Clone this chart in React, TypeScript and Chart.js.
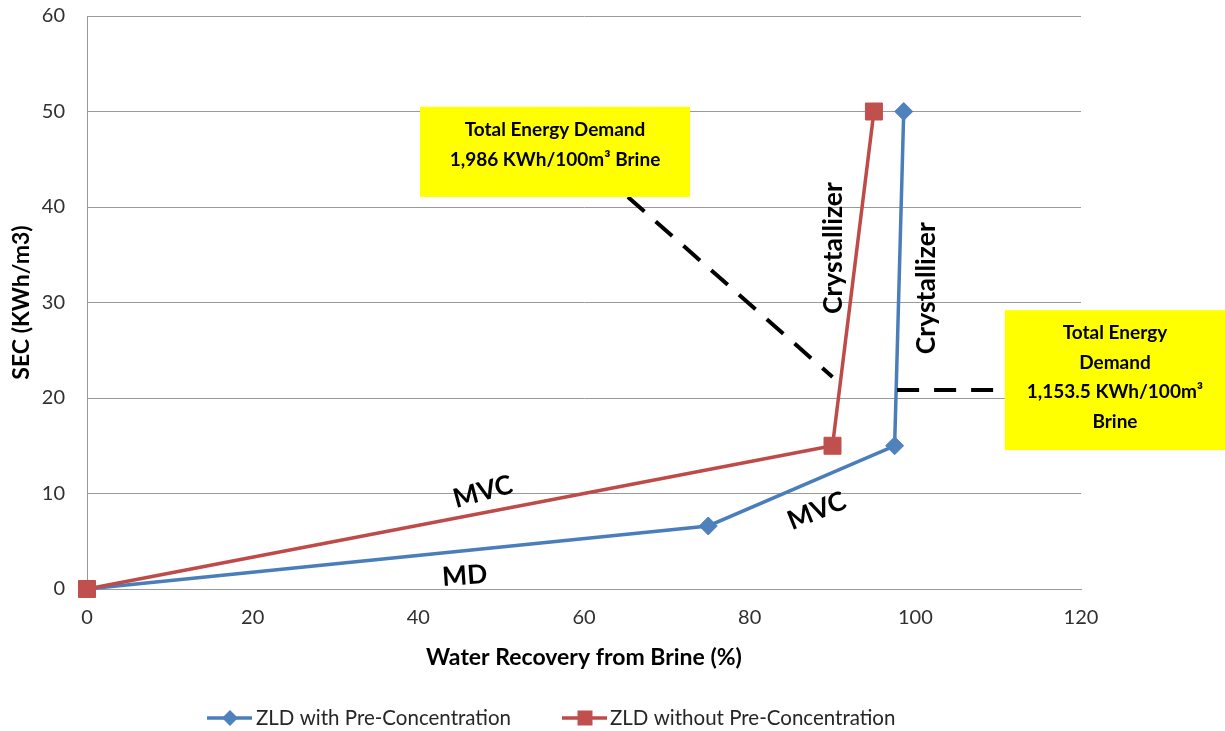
import React, { useEffect, useRef } from 'react';
import { Chart, registerables } from 'chart.js';

Chart.register(...registerables);

// ---- data ----
const seriesNames = ['ZLD with Pre-Concentration', 'ZLD without Pre-Concentration'];
const withPreX = [0, 75, 97.5, 98.6];
const withPreY = [0, 6.6, 15, 50];
const withoutPreX = [0, 90, 95];
const withoutPreY = [0, 15, 50];
const xTickValues = [0, 20, 40, 60, 80, 100, 120];
const yTickValues = [0, 10, 20, 30, 40, 50, 60];
const xTitle = 'Water Recovery from Brine (%)';
const yTitle = 'SEC (KWh/m3)';

// ---- annotations (data coordinates) ----
const calloutBoxes = [
  { x0: 40.2, x1: 72.8, yTop: 50.5, yBottom: 41.05, textY: 48.06, lines: ['Total Energy Demand', '1,986 KWh/100m\u00B3 Brine'] },
  { x0: 110.8, x1: 137.4, yTop: 29.2, yBottom: 14.55, textY: 26.8, lines: ['Total Energy', 'Demand', '1,153.5 KWh/100m\u00B3', 'Brine'] },
];
const dashedLeaders = [
  { from: [65.3, 41.05], to: [90.0, 22.2] },
  { from: [97.8, 20.84], to: [112.4, 20.84] },
];
const curveLabels = [
  { text: 'Crystallizer', x: 90.06, y: 35.7, angle: -90 },
  { text: 'Crystallizer', x: 101.4, y: 31.5, angle: -90 },
  { text: 'MVC', x: 47.8, y: 10.16, angle: -15 },
  { text: 'MVC', x: 88.1, y: 8.17, angle: -22 },
  { text: 'MD', x: 45.6, y: 1.36, angle: -4 },
];

const FONT = 'Lato, "Noto Sans", "DejaVu Sans", sans-serif';
const BLUE = '#4A7EBB';
const BLUE_MARK = '#4F81BD';
const RED = '#BE4B48';
const RED_MARK = '#C0504D';
const GRID = '#9a9a9a';

const legendLayout = [
  { lineX0: 207, lineX1: 252, markerX: 230, textX: 256, marker: 'diamond' },
  { lineX0: 562, lineX1: 607, markerX: 585, textX: 610, marker: 'square' },
];
const legendY = 718;

const annotationPlugin = {
  id: 'annotationPlugin',
  afterDraw(chart: any) {
    const { ctx, scales } = chart;
    const xs = scales.x;
    const ys = scales.y;
    ctx.save();

    // dashed leaders
    ctx.strokeStyle = '#000';
    ctx.lineWidth = 4;
    ctx.setLineDash([22, 15]);
    dashedLeaders.forEach((d) => {
      ctx.beginPath();
      ctx.moveTo(xs.getPixelForValue(d.from[0]), ys.getPixelForValue(d.from[1]));
      ctx.lineTo(xs.getPixelForValue(d.to[0]), ys.getPixelForValue(d.to[1]));
      ctx.stroke();
    });
    ctx.setLineDash([]);

    // callout boxes
    calloutBoxes.forEach((b) => {
      const left = xs.getPixelForValue(b.x0);
      const right = xs.getPixelForValue(b.x1);
      const top = ys.getPixelForValue(b.yTop);
      const bottom = ys.getPixelForValue(b.yBottom);
      ctx.fillStyle = '#FFFF00';
      ctx.fillRect(left, top, right - left, bottom - top);
      ctx.fillStyle = '#000';
      ctx.font = `bold 19px ${FONT}`;
      ctx.textAlign = 'center';
      ctx.textBaseline = 'middle';
      const cx = (left + right) / 2;
      const y0 = ys.getPixelForValue(b.textY);
      b.lines.forEach((t, i) => ctx.fillText(t, cx, y0 + i * 29.5));
    });

    // curve labels
    curveLabels.forEach((l) => {
      ctx.save();
      ctx.translate(xs.getPixelForValue(l.x), ys.getPixelForValue(l.y));
      ctx.rotate((l.angle * Math.PI) / 180);
      ctx.fillStyle = '#000';
      ctx.font = `bold 26.5px ${FONT}`;
      ctx.textAlign = 'center';
      ctx.textBaseline = 'middle';
      ctx.fillText(l.text, 0, 0);
      ctx.restore();
    });

    // legend
    chart.data.datasets.forEach((ds: any, i: number) => {
      const L = legendLayout[i];
      ctx.strokeStyle = ds.borderColor;
      ctx.lineWidth = 3.5;
      ctx.beginPath();
      ctx.moveTo(L.lineX0, legendY);
      ctx.lineTo(L.lineX1, legendY);
      ctx.stroke();
      ctx.fillStyle = ds.pointBackgroundColor;
      ctx.beginPath();
      if (L.marker === 'diamond') {
        const r = 8;
        ctx.moveTo(L.markerX - r, legendY);
        ctx.lineTo(L.markerX, legendY - r);
        ctx.lineTo(L.markerX + r, legendY);
        ctx.lineTo(L.markerX, legendY + r);
        ctx.closePath();
      } else {
        const h = 7.5;
        ctx.rect(L.markerX - h, legendY - h, 2 * h, 2 * h);
      }
      ctx.fill();
      ctx.fillStyle = '#262626';
      ctx.font = `20.5px ${FONT}`;
      ctx.textAlign = 'left';
      ctx.textBaseline = 'middle';
      ctx.fillText(ds.label, L.textX, legendY);
    });

    ctx.restore();
  },
};

export default function App() {
  const canvasRef = useRef<HTMLCanvasElement | null>(null);

  useEffect(() => {
    if (!canvasRef.current) return;
    const chart = new Chart(canvasRef.current, {
      type: 'scatter',
      data: {
        datasets: [
          {
            label: seriesNames[0],
            data: withPreX.map((x, i) => ({ x, y: withPreY[i] })),
            showLine: true,
            clip: false,
            borderColor: BLUE,
            borderWidth: 3.5,
            pointStyle: 'rectRot',
            pointRadius: 9,
            pointHoverRadius: 9,
            pointBackgroundColor: BLUE_MARK,
            pointBorderColor: BLUE_MARK,
            pointBorderWidth: 1,
            order: 1,
          },
          {
            label: seriesNames[1],
            data: withoutPreX.map((x, i) => ({ x, y: withoutPreY[i] })),
            showLine: true,
            clip: false,
            borderColor: RED,
            borderWidth: 3.5,
            pointStyle: 'rect',
            pointRadius: 12,
            pointHoverRadius: 12,
            pointBackgroundColor: RED_MARK,
            pointBorderColor: RED_MARK,
            pointBorderWidth: 1,
            order: 0,
          },
        ],
      },
      options: {
        animation: false,
        responsive: true,
        maintainAspectRatio: false,
        layout: { autoPadding: false, padding: { top: 16, right: 144, bottom: 0, left: 0 } },
        plugins: {
          legend: { display: false },
          tooltip: { enabled: false },
        },
        scales: {
          x: {
            type: 'linear',
            min: xTickValues[0],
            max: xTickValues[xTickValues.length - 1],
            afterBuildTicks: (s: any) => { s.ticks = xTickValues.map((v) => ({ value: v })); },
            ticks: { padding: 17, color: '#303030', font: { family: FONT, size: 20 } },
            grid: { display: false, drawTicks: false },
            border: { display: true, color: GRID, width: 1 },
            title: {
              display: true,
              text: xTitle,
              color: '#000',
              font: { family: FONT, size: 23, weight: 'bold' },
              padding: { top: 0, bottom: 60 },
            },
            afterFit: (s: any) => { s.height = 142; s.paddingLeft = 0; s.paddingRight = 0; },
          },
          y: {
            type: 'linear',
            min: yTickValues[0],
            max: yTickValues[yTickValues.length - 1],
            afterBuildTicks: (s: any) => { s.ticks = yTickValues.map((v) => ({ value: v })); },
            ticks: { padding: 22, color: '#303030', font: { family: FONT, size: 20 } },
            grid: { color: GRID, lineWidth: 1, drawTicks: false },
            border: { display: true, color: GRID, width: 1 },
            title: {
              display: true,
              text: yTitle,
              color: '#000',
              font: { family: FONT, size: 23, weight: 'bold' },
              padding: { top: 8, bottom: 0 },
            },
            afterFit: (s: any) => { s.width = 87; s.paddingTop = 0; s.paddingBottom = 0; },
          },
        },
      } as any,
      plugins: [annotationPlugin],
    });
    return () => chart.destroy();
  }, []);

  return (
    <div style={{ position: 'absolute', left: 0, top: 0, width: 1225, height: 731, background: '#fff' }}>
      <canvas ref={canvasRef} />
    </div>
  );
}
